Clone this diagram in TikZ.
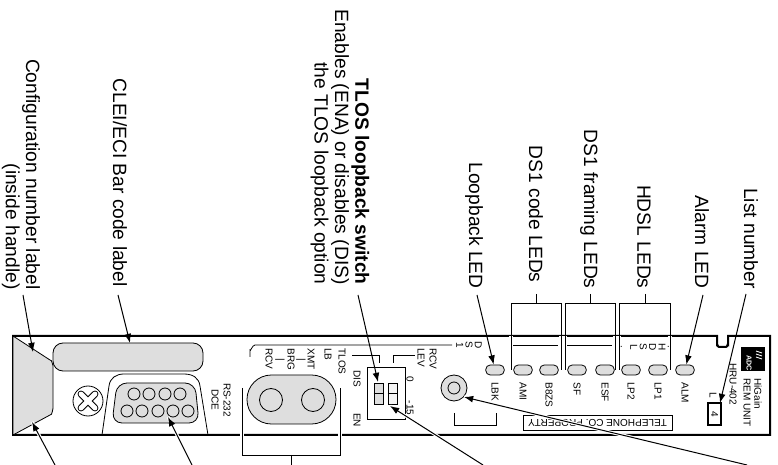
\documentclass[tikz,border=0pt]{standalone}
\usepackage{fontspec}
\usetikzlibrary{arrows.meta}
\setmainfont{Liberation Sans}
\tikzset{
  callout/.style={rotate=-90,inner sep=2pt,font=\fontsize{9.6}{10.2}\selectfont},
  panel/.style={rotate=-90,inner sep=0pt,font=\fontsize{5}{6}\selectfont},
  led/.style={draw,fill=ledgray,rounded corners=2.2pt,minimum width=9.2pt,minimum height=5pt,inner sep=0pt},
  halo/.style={preaction={draw,white,line width=1.6pt,-}},
  ptr/.style={-{Latex[length=4.6pt,width=3.4pt]},line width=.5pt},
  thinline/.style={line width=.4pt},
}
\definecolor{ledgray}{gray}{0.87}
\begin{document}
\begin{tikzpicture}[x=.5pt,y=-.5pt]
\useasboundingbox (0,0) rectangle (778,465);
% panel outline
\fill[white] (13,336) rectangle (770,435);
\draw[line width=1pt] (13,336) -- (717,336) -- (717,344) to[out=90,in=180] (719,347) -- (726,347) to[out=0,in=90] (728,344) -- (728,336) -- (770,336) -- (770,435) -- (13,435) -- cycle;
\draw[line width=1.4pt] (13,336) -- (13,435);
% handle
\draw[thinline,fill=ledgray] (13,336) -- (50,360) to[out=35,in=-90] (53,365) -- (53,409) to[out=90,in=-30] (50,415) -- (13,435) -- cycle;
% bar code label
\node[draw,thinline,fill=ledgray,rounded corners=5pt,minimum width=75pt,minimum height=14pt,inner sep=0pt] (bar) at (128,357) {};
% screw
\node[draw,thinline,circle,minimum size=15pt,inner sep=0pt] (screw) at (88,401) {};
\draw[line width=3.4pt,line cap=round] (81,394) -- (95,408) (95,394) -- (81,408);
\draw[white,line width=2.4pt,line cap=round] (81,394) -- (95,408) (95,394) -- (81,408);
% serial connector
\draw[thinline] (102,435) -- (109,386) .. controls (110,378) and (116,374) .. (124,374) -- (184,374) .. controls (193,374) and (199,378) .. (200,386) -- (208,435);
\draw[thinline,fill=ledgray,rounded corners=5pt] (117,383) -- (195,383) -- (199,423) -- (112,423) -- cycle;
\draw[thinline] (134,394) circle (6) (149,394) circle (6) (165,394) circle (6) (180,394) circle (6);
\draw[thinline] (127,411) circle (6) (142,411) circle (6) (158,411) circle (6) (173,411) circle (6) (188,411) circle (6);
\coordinate (pin) at (168,417);
\node[panel,align=center] (rs) at (221,400) {RS-232\\DCE};
% big oval
\node[draw,thinline,fill=ledgray,rounded corners=12.2pt,minimum width=44.5pt,minimum height=24.5pt,inner sep=0pt] (oval) at (291.5,399.5) {};
\draw[thinline] (271,400) circle (11.5) (313,400) circle (11.5);
% thin rule with corner
\draw[thinline] (250,357) -- (250,350) to[out=-90,in=180] (255,345) -- (452,345);
\draw[thinline] (513,345) -- (558,345) (567,345) -- (612,345);
\node[panel,align=center,font=\fontsize{5}{4.6}\selectfont] (ds) at (469,345) {D\\S\\1};
\node[panel,align=center,font=\fontsize{5}{4.7}\selectfont] (hd) at (645,347) {.\\H\\D\\S\\L\\.};
% small texts
\node[panel,anchor=west] (rcv) at (269,348) {RCV};
\node[panel,anchor=west] (brg) at (291,348) {BRG};
\node[panel,anchor=west] (xmt) at (311,348) {XMT};
\node[panel] (dasha) at (280,360) {|};
\node[panel] (dashb) at (301,360) {|};
\node[panel,anchor=west] (lb) at (328,348) {LB};
\node[panel,anchor=west] (tlos) at (342,348) {TLOS};
\node[panel,anchor=west] (rcvb) at (433,348) {RCV};
\node[panel,anchor=west] (lev) at (421,348) {LEV};
\node[panel] (dis) at (357,379) {DIS};
\node[panel] (en) at (357,420) {EN};
\node[panel] (zero) at (410,379) {0};
\node[panel] (mone) at (410,408) {-15};
% switch
\draw[thinline] (352,355) -- (379,355) -- (379,363);
\draw[thinline] (393,363) -- (393,355) -- (415,355);
\node[draw,thinline,minimum width=19pt,minimum height=26pt,inner sep=0pt] (sw) at (386,393) {};
\node[draw,thinline,fill=ledgray,minimum width=4.5pt,minimum height=10.5pt,inner sep=0pt] (S0) at (378.5,393.5) {};
\node[draw,thinline,fill=gray!8,minimum width=4.5pt,minimum height=10.5pt,inner sep=0pt] (S1) at (392.5,393.5) {};
\draw[thinline] (S0.west) -- (S0.east);
\draw[thinline] (S1.west) -- (S1.east);
% knob
\node[draw,thinline,fill=ledgray,circle,minimum size=13pt,inner sep=0pt] (knob) at (454,388) {};
\node[draw,thinline,circle,minimum size=6pt,inner sep=0pt] (knobin) at (454,388) {};
\draw[thinline] (454,413) -- (454,425) -- (496,425) -- (496,413);
% LEDs
\node[led] (W0) at (495,370) {};
\node[led] (W1) at (523,370) {};
\node[led] (W2) at (549,370) {};
\node[led] (W3) at (577,370) {};
\node[led] (W4) at (605,370) {};
\node[led] (W5) at (631,370) {};
\node[led] (W6) at (658,370) {};
\node[led] (W7) at (685,370) {};
\node[panel,anchor=west] (T0) at (495,382) {LBK};
\node[panel,anchor=west] (T1) at (523,382) {AMI};
\node[panel,anchor=west] (T2) at (549,382) {B8ZS};
\node[panel,anchor=west] (T3) at (577,382) {SF};
\node[panel,anchor=west] (T4) at (605,382) {ESF};
\node[panel,anchor=west] (T5) at (631,382) {LP2};
\node[panel,anchor=west] (T6) at (658,382) {LP1};
\node[panel,anchor=west] (T7) at (685,382) {ALM};
% property label
\node[draw,thinline,minimum width=74.5pt,minimum height=7.5pt,inner sep=0pt,rotate=180,font=\fontsize{5}{6}\selectfont] (prop) at (597.5,422.5) {TELEPHONE CO. PROPERTY};
% unit texts
\node[panel,anchor=west] (hi) at (758,378) {HiGain};
\node[panel,anchor=west] (rem) at (747,378) {REM UNIT};
\node[panel,anchor=west] (hru) at (733,363) {HRU-402};
\node[panel] (ell) at (713,395) {L};
\node[draw,line width=.7pt,minimum width=6.5pt,minimum height=11pt,inner sep=0pt] (four) at (714.5,414) {};
\node[panel] (fourt) at (714.5,414) {4};
% logo
\node[fill=black,minimum width=12pt,minimum height=12pt,inner sep=0pt] (logo) at (753,359) {};
\node[panel,white,font=\bfseries\fontsize{3.6}{4}\selectfont] (adc) at (749,363) {ADC};
\draw[white,line width=.4pt] (756,351) -- (762,353) (756,354) -- (762,356) (756,357) -- (762,359);
% brackets
\draw[white,line width=1.8pt] (511,336) -- (511,345) (561,336) -- (561,345) (565,336) -- (565,345) (615,336) -- (615,345) (619,336) -- (619,345) (670,336) -- (670,345);
\draw[thinline] (511,370) -- (511,303) -- (561,303) -- (561,370);
\draw[thinline] (565,370) -- (565,303) -- (615,303) -- (615,370);
\draw[thinline] (619,370) -- (619,303) -- (670,303) -- (670,370);
\draw[white,line width=1.8pt] (242,430) -- (242,440) (340,430) -- (340,440);
\draw[thinline] (242,388) -- (242,455) -- (340,455) -- (340,388);
\coordinate (oc) at (291,455);
\coordinate (okey) at (291,465);
\draw[thinline] (oc) -- (okey);
% labels on top
\node[callout,anchor=east,align=right] (lblcfg) at (21,294) {Configuration number label\\(inside handle)};
\node[callout,anchor=east] (lblbar) at (120,291) {CLEI/ECI Bar code label};
\node[callout,anchor=east,align=right] (lbltlos) at (340,289) {\textbf{TLOS loopback switch}\\Enables (ENA) or disables (DIS)\\the TLOS loopback option};
\node[callout,anchor=east] (lblloop) at (474,293) {Loopback LED};
\node[callout,anchor=east] (lblcode) at (536,287) {DS1 code LEDs};
\node[callout,anchor=east] (lblfram) at (589,293) {DS1 framing LEDs};
\node[callout,anchor=east] (lblhdsl) at (644,293) {HDSL LEDs};
\node[callout,anchor=east] (lblalm) at (702,293) {Alarm LED};
\node[callout,anchor=east] (lbllist) at (751,293) {List number};
% arrows
\coordinate (ca) at (536,294);
\coordinate (cb) at (536,303);
\draw[thinline] (ca) -- (cb);
\coordinate (cc) at (590,294);
\coordinate (cd) at (590,303);
\draw[thinline] (cc) -- (cd);
\coordinate (ce) at (645,294);
\coordinate (cf) at (645,303);
\draw[thinline] (ce) -- (cf);
\coordinate (a0) at (23,295);
\coordinate (t0) at (33,352);
\draw[ptr] (a0) -- (t0);
\coordinate (a1) at (118,295);
\coordinate (t1) at (130,343);
\draw[ptr] (a1) -- (t1);
\coordinate (a2) at (358,295);
\coordinate (t2) at (378,382);
\draw[ptr] (a2) -- (t2);
\coordinate (a3) at (477,295);
\draw[ptr] (a3) -- (W0);
\coordinate (a4) at (703,295);
\draw[ptr] (a4) -- (W7);
\coordinate (a5) at (746,294);
\coordinate (t5) at (720,403);
\draw[ptr] (a5) -- (t5);
\coordinate (a6) at (55,465);
\coordinate (t6) at (32,422);
\draw[ptr,halo] (a6) -- (t6);
\coordinate (a7) at (192,465);
\draw[ptr,halo] (a7) -- (pin);
\coordinate (a8) at (483,465);
\coordinate (t8) at (390,406);
\draw[ptr,halo] (a8) -- (t8);
\coordinate (a9) at (747,465);
\coordinate (t9) at (464,397);
\draw[ptr,halo] (a9) -- (t9);
\end{tikzpicture}
\end{document}
